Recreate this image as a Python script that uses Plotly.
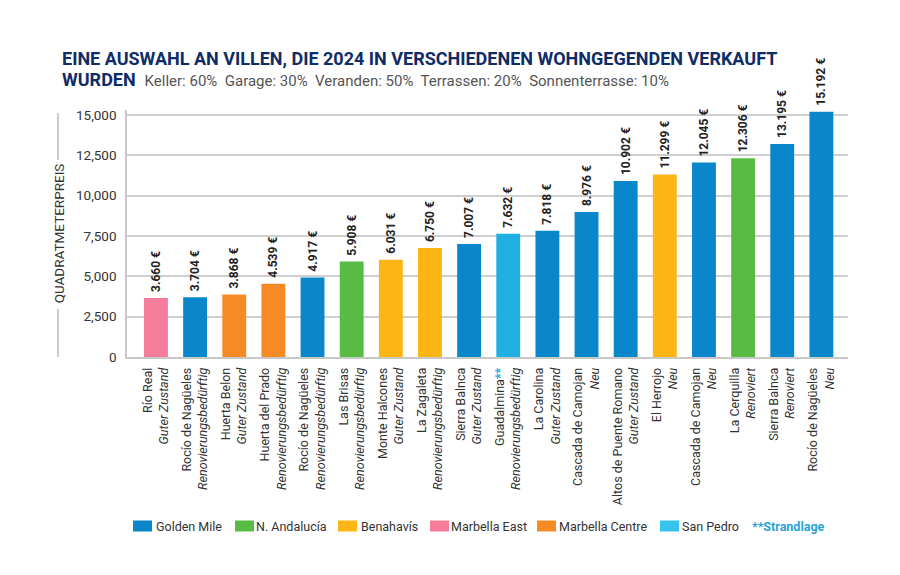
import plotly.graph_objects as go

# ---- data ----
names = ["Río Real", "Rocío de Nagüeles", "Huerta Belon", "Huerta del Prado", "Rocío de Nagüeles",
         "Las Brisas", "Monte Halcones", "La Zagaleta", "Sierra Balnca", "Guadalmina",
         "La Carolina", "Cascada de Camojan", "Altos de Puente Romano", "El Herrojo",
         "Cascada de Camojan", "La Cerquilla", "Sierra Balnca", "Rocío de Nagüeles"]
conditions = ["Guter Zustand", "Renovierungsbedürftig", "Guter Zustand", "Renovierungsbedürftig",
              "Renovierungsbedürftig", "Renovierungsbedürftig", "Guter Zustand", "Renovierungsbedürftig",
              "Guter Zustand", "Renovierungsbedürftig", "Guter Zustand", "Neu", "Guter Zustand", "Neu",
              "Neu", "Renoviert", "Renoviert", "Neu"]
beach = [False, False, False, False, False, False, False, False, False, True,
         False, False, False, False, False, False, False, False]
values = [3660, 3704, 3868, 4539, 4917, 5908, 6031, 6750, 7007, 7632,
          7818, 8976, 10902, 11299, 12045, 12306, 13195, 15192]
regions = ["Marbella East", "Golden Mile", "Marbella Centre", "Marbella Centre", "Golden Mile",
           "N. Andalucía", "Benahavís", "Benahavís", "Golden Mile", "San Pedro",
           "Golden Mile", "Golden Mile", "Golden Mile", "Benahavís", "Golden Mile",
           "N. Andalucía", "Golden Mile", "Golden Mile"]
region_order = ["Golden Mile", "N. Andalucía", "Benahavís", "Marbella East", "Marbella Centre", "San Pedro"]
region_colors = {"Golden Mile": "#0a87cb", "N. Andalucía": "#58bb43", "Benahavís": "#fdb515",
                 "Marbella East": "#f57c9b", "Marbella Centre": "#f68b25", "San Pedro": "#1fb0e2"}
legend_colors = {"San Pedro": "#36c3ee"}
y_ticks = [0, 2500, 5000, 7500, 10000, 12500, 15000]
title_line1 = "EINE AUSWAHL AN VILLEN, DIE 2024 IN VERSCHIEDENEN WOHNGEGENDEN VERKAUFT"
title_line2 = "WURDEN"
subtitle_items = ["Keller: 60%", "Garage: 30%", "Veranden: 50%", "Terrassen: 20%", "Sonnenterrasse: 10%"]
y_title = "QUADRATMETERPREIS"
beach_note = "**Strandlage"

# ---- layout constants (pixel positions in the 900x575 canvas) ----
PLOT_L, PLOT_R, PLOT_T, PLOT_B = 127, 848, 110, 357
OFF = 8  # page body offset
APAD = 3  # annotation inner padding
legend_swatch_x = [133, 235, 338, 430, 537, 660]
legend_text_x = [157, 257, 362, 452, 560, 683]
beach_note_x = 753
LEGEND_Y = 526

STRAND = "#29a3d6"
FONT = "Roboto, 'Open Sans', sans-serif"
PW = PLOT_R - PLOT_L
PH = PLOT_B - PLOT_T


def px_x(px):
    return (px - PLOT_L) / PW


def px_y(py):
    return (PLOT_B - py) / PH


def fmt_eur(v):
    return "&nbsp;" + f"{v:,}".replace(",", ".") + " €"


fig = go.Figure()
for reg in region_order:
    idx = [i for i, r in enumerate(regions) if r == reg]
    fig.add_trace(go.Bar(
        x=idx,
        y=[values[i] for i in idx],
        name=reg,
        showlegend=False,
        marker=dict(color=region_colors[reg], line=dict(width=0)),
        width=0.61,
        text=[fmt_eur(values[i]) for i in idx],
        textposition="outside",
        textangle=-90,
        textfont=dict(family=FONT, size=12, color="#222222", weight="bold"),
        constraintext="none",
        cliponaxis=False,
        hoverinfo="skip",
    ))

ticktext = []
for n, c, b in zip(names, conditions, beach):
    star = f"<span style='color:{STRAND}'><b>**</b></span>" if b else ""
    ticktext.append(f"{n}{star}<br><i>{c}</i>")

fig.update_layout(
    width=900, height=575,
    margin=dict(l=PLOT_L - OFF, r=900 - PLOT_R + OFF, t=PLOT_T - OFF, b=575 - PLOT_B + OFF),
    paper_bgcolor="white", plot_bgcolor="white",
    barmode="overlay",
    font=dict(family=FONT, color="#333333"),
    showlegend=False,
    xaxis=dict(
        range=[-0.74, 17.68],
        tickmode="array", tickvals=list(range(len(names))), ticktext=ticktext,
        tickangle=-90, tickfont=dict(size=12.5, color="#333333"),
        showgrid=False, zeroline=False,
        showline=True, linecolor="#c8c8c8", linewidth=1.5,
        ticks="", ticklabelstandoff=4, fixedrange=True,
    ),
    yaxis=dict(
        range=[0, 15300],
        tickmode="array", tickvals=y_ticks, ticktext=[f"{v:,}" for v in y_ticks],
        tickfont=dict(size=13.5, color="#333333"),
        showgrid=True, gridcolor="#cfcfcf", gridwidth=1.5,
        zeroline=False, showline=True, linecolor="#c8c8c8", linewidth=1.5,
        ticks="", ticklabelstandoff=6,
        title=dict(text=y_title, font=dict(size=13.5, color="#333333"), standoff=8),
        fixedrange=True,
    ),
)

# title
fig.add_annotation(
    xref="paper", yref="paper", x=px_x(62 - 2), y=px_y(58), xanchor="left", yanchor="middle",
    text=f"<b>{title_line1}</b>", showarrow=False,
    font=dict(family=FONT, size=18, color="#0f2c66"),
)
sub = "&nbsp; ".join(subtitle_items)
fig.add_annotation(
    xref="paper", yref="paper", x=px_x(62 - 2), y=px_y(79), xanchor="left", yanchor="middle",
    text=f"<b>{title_line2}</b>&nbsp; <span style='font-size:15px;color:#555555'>{sub}</span>",
    showarrow=False,
    font=dict(family=FONT, size=18, color="#0f2c66"),
)

# decorative lines around the y-axis title
for y0, y1 in [(160, 113), (357, 309)]:
    fig.add_shape(type="line", xref="paper", yref="paper", x0=px_x(58), x1=px_x(58),
                  y0=px_y(y0), y1=px_y(y1), line=dict(color="#9a9a9a", width=1))

# legend (custom, to match spacing)
for reg, sx, tx in zip(region_order, legend_swatch_x, legend_text_x):
    fig.add_shape(type="rect", xref="paper", yref="paper",
                  x0=px_x(sx), x1=px_x(sx + 19), y0=px_y(LEGEND_Y + 5.5), y1=px_y(LEGEND_Y - 5.5),
                  line=dict(width=0), fillcolor=legend_colors.get(reg, region_colors[reg]))
    fig.add_annotation(xref="paper", yref="paper", x=px_x(tx - APAD), y=px_y(LEGEND_Y),
                       xanchor="left", yanchor="middle", showarrow=False, text=reg,
                       font=dict(family=FONT, size=12.5, color="#333333"))
fig.add_annotation(xref="paper", yref="paper", x=px_x(beach_note_x - APAD), y=px_y(LEGEND_Y),
                   xanchor="left", yanchor="middle", showarrow=False, text=f"<b>{beach_note}</b>",
                   font=dict(family=FONT, size=12.5, color=STRAND))

fig.write_html("out.html")
